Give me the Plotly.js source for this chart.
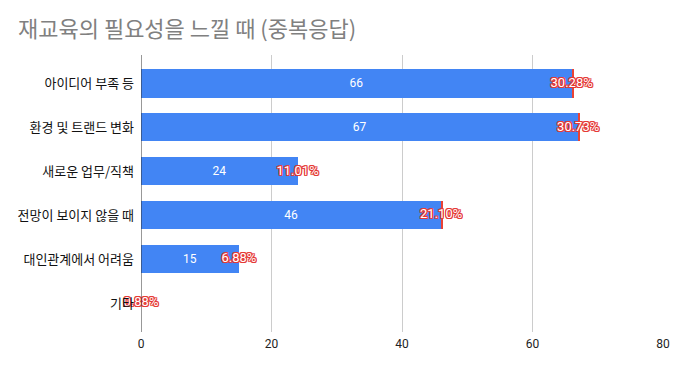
<!DOCTYPE html>
<html>
<head>
<meta charset="utf-8">
<script src="https://cdn.plot.ly/plotly-3.0.1.min.js"></script>
<style>html,body{margin:0;padding:0;background:#fff;}#chart{width:684px;height:371px;}</style>
</head>
<body>
<div id="chart"></div>
<script>
const categories = ["아이디어 부족 등", "환경 및 트랜드 변화", "새로운 업무/직책", "전망이 보이지 않을 때", "대인관계에서 어려움", "기타"];
const counts = [66, 67, 24, 46, 15, 0];
const percents = [30.28, 30.73, 11.01, 21.10, 6.88, 0.88];
const percentLabels = ["30.28%", "30.73%", "11.01%", "21.10%", "6.88%", "0.88%"];
const xTicks = [0, 20, 40, 60, 80];

const outline = "1px 0 0 #e53935, -1px 0 0 #e53935, 0 1px 0 #e53935, 0 -1px 0 #e53935, 1px 1px 0 #e53935, -1px -1px 0 #e53935, 1px -1px 0 #e53935, -1px 1px 0 #e53935";

const traces = [
  {
    type: 'bar', orientation: 'h',
    x: counts, y: categories,
    marker: {color: '#4285f4'},
    text: counts.map(v => v ? String(v) : ''),
    textposition: 'inside', insidetextanchor: 'middle',
    textfont: {color: '#ffffff', size: 12, family: 'Roboto, Arial, sans-serif'},
    hoverinfo: 'none', showlegend: false
  },
  {
    type: 'bar', orientation: 'h',
    x: counts.map((v, i) => v ? percents[i] / 100 : 0), y: categories,
    marker: {color: '#ea4335'},
    hoverinfo: 'none', showlegend: false
  },
  {
    type: 'scatter', mode: 'text',
    x: counts, y: categories,
    text: percentLabels,
    textposition: 'middle center',
    textfont: {color: '#ffffff', size: 13, family: 'Roboto, Arial, sans-serif', shadow: outline},
    hoverinfo: 'none', showlegend: false, cliponaxis: false
  }
];

const layout = {
  width: 684, height: 371,
  margin: {l: 141, r: 21, t: 55, b: 39},
  paper_bgcolor: '#ffffff', plot_bgcolor: '#ffffff',
  barmode: 'stack', bargap: 0.36,
  title: {
    text: '재교육의 필요성을 느낄 때 (중복응답)',
    x: 18 / 684, xref: 'container', xanchor: 'left', y: 0.922, yref: 'container', yanchor: 'middle',
    font: {family: '"Noto Sans CJK KR", sans-serif', size: 22, color: '#808080'}
  },
  xaxis: {
    range: [0, 80], tickvals: xTicks, ticktext: xTicks.map(String),
    showgrid: true, gridcolor: '#cccccc', gridwidth: 1,
    zeroline: false, showline: false, ticks: '',
    tickfont: {family: 'Roboto, Arial, sans-serif', size: 12, color: '#222222'},
    ticklabelstandoff: 3,
    fixedrange: true
  },
  yaxis: {
    type: 'category', categoryorder: 'array', categoryarray: categories,
    range: [5.66, -0.649],
    showgrid: false, zeroline: false, showline: false, ticks: '',
    ticklabelstandoff: 6,
    tickfont: {family: '"Noto Sans CJK KR", sans-serif', size: 13, color: '#111111'},
    fixedrange: true
  },
  shapes: [
    {type: 'line', xref: 'x', yref: 'paper', x0: 0, x1: 0, y0: 0, y1: 1, line: {color: '#333333', width: 1}}
  ]
};

Plotly.newPlot('chart', traces, layout, {displayModeBar: false, staticPlot: true});
</script>
</body>
</html>
